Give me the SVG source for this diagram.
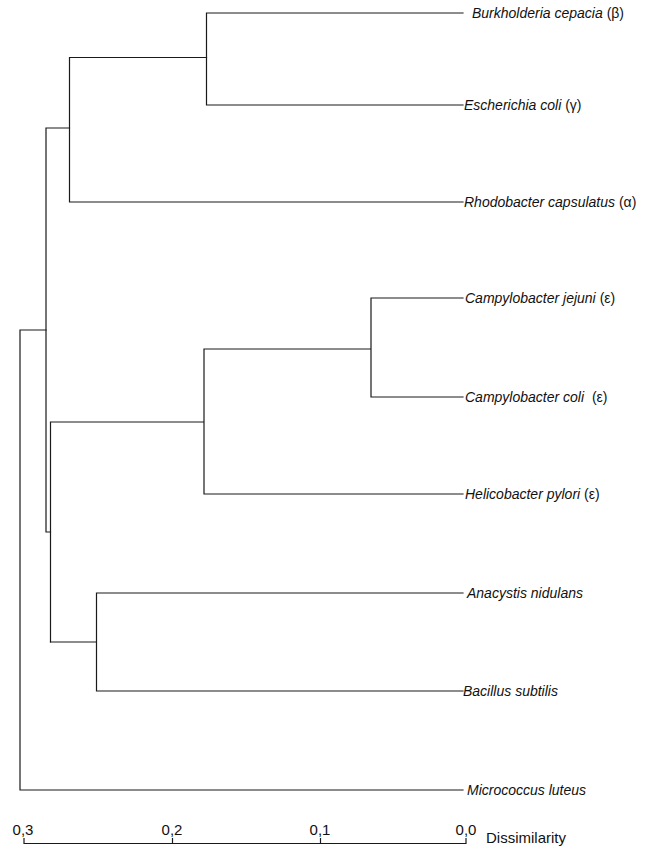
<svg xmlns="http://www.w3.org/2000/svg" width="647" height="846" viewBox="0 0 647 846">
<style>
.ln{stroke:#1a1a1a;stroke-width:1.2;fill:none;stroke-linecap:square}
.lb{font-family:"Liberation Sans",Arial,sans-serif;font-size:14px;font-style:italic;fill:#111}
.gr{font-style:normal}
.ax{font-family:"Liberation Sans",Arial,sans-serif;font-size:15px;fill:#111}
</style>
<rect width="647" height="846" fill="#fff"/>
<g id="connectors">
<path class="ln" d="M206.5,13H463M206.5,105H463M206.5,13V105"/>
<path class="ln" d="M69.5,57.5H206.5M69.5,57.5V202M69.5,202H463"/>
<path class="ln" d="M46,128H69.5M46,128V532M46,532H50.5"/>
<path class="ln" d="M50.5,422V642M50.5,422H204M204,349V494M204,349H371M371,298V397M371,298H463M371,397H463M204,494H463"/>
<path class="ln" d="M50.5,642H96.5M96.5,593V691M96.5,593H463M96.5,691H463"/>
<path class="ln" d="M20,330H46M20,330V790M20,790H463"/>
</g>
<g id="leaf-burkholderia"><text class="lb" x="472" y="18">Burkholderia cepacia <tspan class="gr">(β)</tspan></text></g>
<g id="leaf-escherichia"><text class="lb" x="464" y="110">Escherichia coli <tspan class="gr">(γ)</tspan></text></g>
<g id="leaf-rhodobacter"><text class="lb" x="464" y="207">Rhodobacter capsulatus <tspan class="gr">(α)</tspan></text></g>
<g id="leaf-cjejuni"><text class="lb" x="465" y="303">Campylobacter jejuni <tspan class="gr">(ε)</tspan></text></g>
<g id="leaf-ccoli"><text class="lb" x="465" y="402">Campylobacter coli <tspan class="gr" dx="4">(ε)</tspan></text></g>
<g id="leaf-helicobacter"><text class="lb" x="465" y="499">Helicobacter pylori <tspan class="gr">(ε)</tspan></text></g>
<g id="leaf-anacystis"><text class="lb" x="467" y="598">Anacystis nidulans</text></g>
<g id="leaf-bacillus"><text class="lb" x="463" y="696">Bacillus subtilis</text></g>
<g id="leaf-micrococcus"><text class="lb" x="467" y="795">Micrococcus luteus</text></g>
<g id="axis">
<path class="ln" d="M24,843.5H466M24,838.5V843.5M172.5,838.5V843.5M320.5,838.5V843.5M466,838.5V843.5"/>
<text class="ax" x="23" y="835" text-anchor="middle">0,3</text>
<text class="ax" x="172" y="835" text-anchor="middle">0,2</text>
<text class="ax" x="320" y="835" text-anchor="middle">0,1</text>
<text class="ax" x="466" y="835" text-anchor="middle">0,0</text>
<text class="ax" x="486" y="843" font-size="16.5">Dissimilarity</text>
</g>
</svg>
